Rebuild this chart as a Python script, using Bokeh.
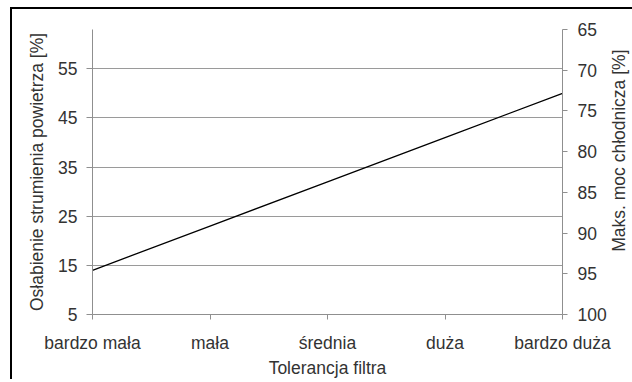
import math
from bokeh.plotting import figure
from bokeh.models import Range1d, LinearAxis, FixedTicker
from bokeh.embed import file_html
from bokeh.resources import INLINE

categories = ["bardzo mała", "mała", "średnia", "duża", "bardzo duża"]
airflow_loss = [14, 23, 32, 41, 50]
left_ticks = [5, 15, 25, 35, 45, 55]
right_ticks = [65, 70, 75, 80, 85, 90, 95, 100]
right_title = "Maks. moc chłodnicza [%]"

FONT = "Liberation Sans"
FS = "17.5px"
TXT = "#333333"
AX = "#8f8f8f"

xs = list(range(len(categories)))

OX, OY = 12.5, 9.5  # canvas offset caused by margin + border
EXTRA = 18          # canvas slack beyond the right window edge
W, H = round(632 - OX) + EXTRA, round(382 - OY)

p = figure(width=W, height=H, output_backend="svg",
           toolbar_location=None,
           x_range=Range1d(0, len(categories) - 1), y_range=Range1d(5, 63),
           min_border_left=round(92 - OX), min_border_right=70 + EXTRA,
           min_border_top=round(29 - OY), min_border_bottom=67,
           outline_line_color=None)
p.styles = {"border-left": "2.5px solid black", "border-top": "2.5px solid black",
            "margin-left": "10px", "margin-top": "7px"}

p.line(xs, airflow_loss, line_color="black", line_width=1.3)

p.extra_y_ranges = {"right": Range1d(100, 65)}
raxis = LinearAxis(y_range_name="right", ticker=FixedTicker(ticks=right_ticks))
p.add_layout(raxis, "right")

# right title drawn as a rotated (bottom-to-top) label of an extra bare axis
title_pos = 92.3
taxis = LinearAxis(y_range_name="right", ticker=FixedTicker(ticks=[title_pos]),
                   major_label_overrides={title_pos: right_title},
                   major_label_orientation=math.pi / 2,
                   axis_line_color=None, major_tick_line_color=None,
                   minor_tick_line_color=None, major_tick_in=0, major_tick_out=0,
                   major_label_standoff=10,
                   major_label_text_font=FONT, major_label_text_font_size=FS,
                   major_label_text_color=TXT)
p.add_layout(taxis, "right")

p.xaxis.ticker = FixedTicker(ticks=xs)
p.xaxis.major_label_overrides = {i: c for i, c in enumerate(categories)}
p.xaxis.axis_label = "Tolerancja filtra"
p.yaxis[0].ticker = FixedTicker(ticks=left_ticks)
p.yaxis[0].axis_label = "Osłabienie strumienia powietrza [%]"

for ax in [p.xaxis[0], p.yaxis[0], raxis]:
    ax.axis_line_color = AX
    ax.major_tick_line_color = AX
    ax.minor_tick_line_color = None
    ax.major_tick_in = 0
    ax.major_tick_out = 5
    ax.major_label_text_font = FONT
    ax.major_label_text_font_size = FS
    ax.major_label_text_color = TXT
    ax.axis_label_text_font = FONT
    ax.axis_label_text_font_size = FS
    ax.axis_label_text_color = TXT
    ax.axis_label_text_font_style = "normal"

p.yaxis[0].major_tick_out = 6
p.yaxis[0].major_label_standoff = 9
p.yaxis[0].axis_label_standoff = 8
raxis.major_label_standoff = 10
p.xaxis.major_label_standoff = 13
p.xaxis.axis_label_standoff = 2

p.xgrid.grid_line_color = None
p.ygrid.ticker = FixedTicker(ticks=left_ticks)
p.ygrid.grid_line_color = "#9a9a9a"
p.ygrid.grid_line_width = 1

open("out.html", "w").write(file_html(p, INLINE))
